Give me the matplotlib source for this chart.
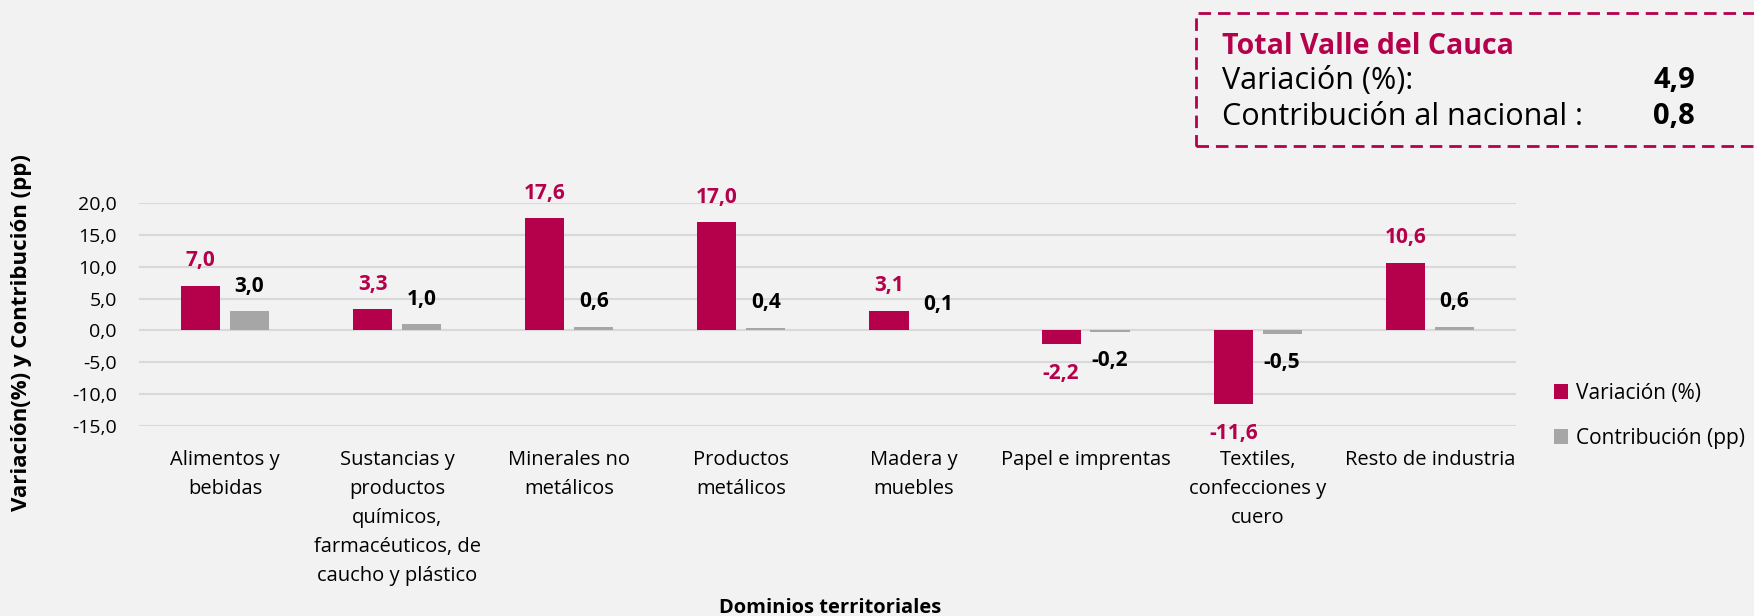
import matplotlib.pyplot as plt
import matplotlib.patches as mpatches
import numpy as np

# Datos
categorias = ["Alimentos y\nbebidas",
              "Sustancias y\nproductos\nquímicos,\nfarmacéuticos, de\ncaucho y plástico",
              "Minerales no\nmetálicos",
              "Productos\nmetálicos",
              "Madera y\nmuebles",
              "Papel e imprentas",
              "Textiles,\nconfecciones y\ncuero",
              "Resto de industria"]
variacion = [7.0, 3.3, 17.6, 17.0, 3.1, -2.2, -11.6, 10.6]
contribucion = [3.0, 1.0, 0.6, 0.4, 0.1, -0.2, -0.5, 0.6]
y_ticks = [20, 15, 10, 5, 0, -5, -10, -15]
total_variacion = 4.9
total_contribucion = 0.8

ROJO = "#B5004B"
GRIS = "#A6A6A6"
FONDO = "#F2F2F2"

plt.rcParams['font.family'] = ['Open Sans', 'DejaVu Sans']


def fmt(v):
    return f"{v:.1f}".replace('.', ',')


fig = plt.figure(figsize=(17.54, 6.16), dpi=100, facecolor=FONDO)
ax = fig.add_axes([0.0792, 0.3084, 0.785, 0.3621], facecolor=FONDO)

x = np.arange(len(categorias))
ancho = 0.227
desp = 0.142
b1 = ax.bar(x - desp, variacion, ancho, color=ROJO, label="Variación (%)", zorder=3)
b2 = ax.bar(x + desp, contribucion, ancho, color=GRIS, label="Contribución (pp)", zorder=3)

# Etiquetas de datos
for xi, v in zip(x - desp, variacion):
    off = 18 if v >= 0 else -21
    ax.annotate(fmt(v), (xi, v), xytext=(0, off), textcoords="offset points",
                ha="center", va="center", fontsize=15, fontweight="bold", color=ROJO)
for xi, v in zip(x + desp, contribucion):
    off = 18 if v >= 0 else -21
    ax.annotate(fmt(v), (xi, v), xytext=(0, off), textcoords="offset points",
                ha="center", va="center", fontsize=15, fontweight="bold", color="black")

ax.set_xlim(-0.5, len(categorias) - 0.5)
ax.set_ylim(-15, 20)
ax.set_yticks(y_ticks)
ax.set_yticklabels([fmt(t) for t in y_ticks], fontsize=14)
ax.set_xticks(x)
ax.set_xticklabels(categorias, fontsize=14.5, linespacing=1.6, va="top")
ax.tick_params(axis="both", length=0)
ax.tick_params(axis="y", pad=16)
ax.tick_params(axis="x", pad=17)
ax.grid(axis="y", color="#D9D9D9", linewidth=1.5, zorder=0)
for s in ax.spines.values():
    s.set_visible(False)

fig.text(0.0125, 0.46, "Variación(%) y Contribución (pp)", rotation=90,
         ha="center", va="center", fontsize=16, fontweight="bold")
fig.text(0.473, 0.013, "Dominios territoriales", ha="center", va="center",
         fontsize=14.5, fontweight="bold")

fig.legend(handles=[b1, b2], loc="center left", bbox_to_anchor=(0.875, 0.325),
           frameon=False, fontsize=15, handlelength=0.7, handleheight=0.7,
           handletextpad=0.4, labelspacing=1.15)

# Recuadro del total
caja = mpatches.Rectangle((1196 / 1754, 1 - 146 / 616), 0.35, 133 / 616,
                          transform=fig.transFigure, fill=False, edgecolor=ROJO,
                          linewidth=2, linestyle=(0, (4.5, 2.5)), clip_on=False)
fig.patches.append(caja)
fig.text(1222 / 1754, 1 - 46 / 616, "Total Valle del Cauca", ha="left", va="center",
         fontsize=20.5, fontweight="bold", color=ROJO)
fig.text(1222 / 1754, 1 - 81 / 616, "Variación (%):", ha="left", va="center", fontsize=22)
fig.text(1222 / 1754, 1 - 117 / 616, "Contribución al nacional :", ha="left", va="center", fontsize=22)
fig.text(1695 / 1754, 1 - 81 / 616, fmt(total_variacion), ha="right", va="center",
         fontsize=21, fontweight="bold")
fig.text(1695 / 1754, 1 - 117 / 616, fmt(total_contribucion), ha="right", va="center",
         fontsize=21, fontweight="bold")

fig.savefig("out.png", dpi=100, facecolor=FONDO)
